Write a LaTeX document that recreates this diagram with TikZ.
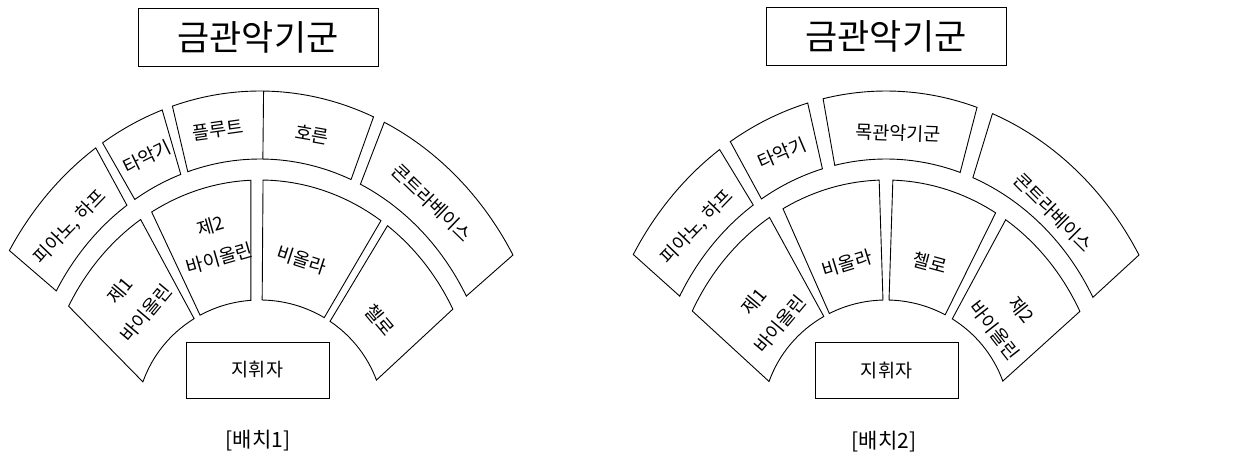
\documentclass[tikz,border=0pt]{standalone}
\usepackage{fontspec}
\newfontfamily\kr{Noto Sans CJK KR}
\newcommand\sect[8]{\draw[secline] (#1:#5pt and #6pt) arc[start angle=#1,end angle=#2,x radius=#5pt,y radius=#6pt] -- (#4:#7pt and #8pt) arc[start angle=#4,end angle=#3,x radius=#7pt,y radius=#8pt] -- cycle;}
\begin{document}
\begin{tikzpicture}[x=1pt,y=1pt,
  secline/.style={draw=black,line width=0.9pt,line join=miter},
  lab/.style={font=\kr\fontsize{18.5}{34}\selectfont,align=center,inner sep=0pt},
  titlebox/.style={draw=black,line width=0.9pt,minimum width=240pt,minimum height=58pt,inner sep=0pt,font=\kr\fontsize{35}{38}\selectfont},
  condbox/.style={draw=black,line width=0.9pt,minimum width=143pt,minimum height=56pt,inner sep=0pt,font=\kr\fontsize{18.5}{20}\selectfont},
  captext/.style={font=\kr\fontsize{21}{23}\selectfont,inner sep=0pt}]
\useasboundingbox (0,0) rectangle (1242,-457);
% ---------------- left ----------------
\begin{scope}[shift={(260,-422)}]
\node[titlebox] (titleL) at (-2,385) {금관악기군};
\node[condbox] (condL) at (-2.5,52) {지휘자};
\node[captext] (capL) at (-2,-19) {[배치1]};
% row 2
\sect{150.1}{124.5}{148.8}{124.1}{235}{263}{293}{331}
\sect{122.2}{109.7}{122.5}{109.5}{235}{263}{293}{331}
\sect{107.9}{67.2}{107.4}{67.2}{235}{263}{293}{331}
\draw[secline] (89.3:235pt and 263pt) -- (89.3:293pt and 331pt);
\sect{64.7}{28.6}{64.9}{30.3}{235}{263}{293}{331}
% row 1
\sect{160.8}{122.1}{151.4}{123.2}{124}{122}{218}{242}
\sect{118.9}{94.2}{119.8}{92.4}{124}{122}{218}{242}
\sect{89.0}{58.8}{89.2}{56.3}{124}{122}{218}{242}
\sect{55.6}{20.1}{54.2}{27.8}{124}{122}{218}{242}
% labels
\node[lab,rotate=46] (pianoL) at (-190,195) {피아노, 하프};
\node[lab,rotate=26] (percL) at (-113,265) {타악기};
\node[lab,rotate=8] (fluteL) at (-42,292) {플루트};
\node[lab,rotate=-10] (hornL) at (52,287) {호른};
\node[lab,rotate=-44] (cbL) at (172,219) {콘트라베이스};
\node[lab,rotate=50] (vn1L) at (-127,120) {제1\\바이올린};
\node[lab,rotate=16] (vn2L) at (-45,180) {제2\\바이올린};
\node[lab,rotate=-18] (vaL) at (42,162) {비올라};
\node[lab,rotate=-50] (vcL) at (120,102) {첼로};
\end{scope}
% ---------------- right ----------------
\begin{scope}[shift={(886,-422)}]
\node[titlebox] (titleR) at (0,385.5) {금관악기군};
\node[condbox] (condR) at (0.5,51.5) {지휘자};
\node[captext] (capR) at (-2,-20) {[배치2]};
% row 2
\sect{151.4}{124.4}{149.6}{124.6}{235}{263}{293}{331}
\sect{122.0}{105.7}{122.1}{105.5}{235}{263}{293}{331}
\sect{102.6}{71.6}{102.4}{71.9}{235}{263}{293}{331}
\sect{68.3}{28.3}{68.7}{30.3}{235}{263}{293}{331}
% row 1
\sect{160.6}{120.1}{152.7}{122.3}{124}{122}{218}{242}
\sect{117.2}{91.4}{118.2}{91.8}{124}{122}{218}{242}
\sect{88.6}{61.5}{88.2}{59.8}{124}{122}{218}{242}
\sect{57.7}{19.6}{56.7}{27.2}{124}{122}{218}{242}
% labels
\node[lab,rotate=46] (pianoR) at (-189,195) {피아노, 하프};
\node[lab,rotate=23] (percR) at (-104,269) {타악기};
\node[lab,rotate=-2] (woodR) at (12,289) {목관악기군};
\node[lab,rotate=-45] (cbR) at (167,209) {콘트라베이스};
\node[lab,rotate=50] (vn1R) at (-119,109) {제1\\바이올린};
\node[lab,rotate=17] (vaR) at (-39,159) {비올라};
\node[lab,rotate=-15] (vcR) at (44,159) {첼로};
\node[lab,rotate=-52] (vn2R) at (122,102) {제2\\바이올린};
\end{scope}
\end{tikzpicture}
\end{document}
